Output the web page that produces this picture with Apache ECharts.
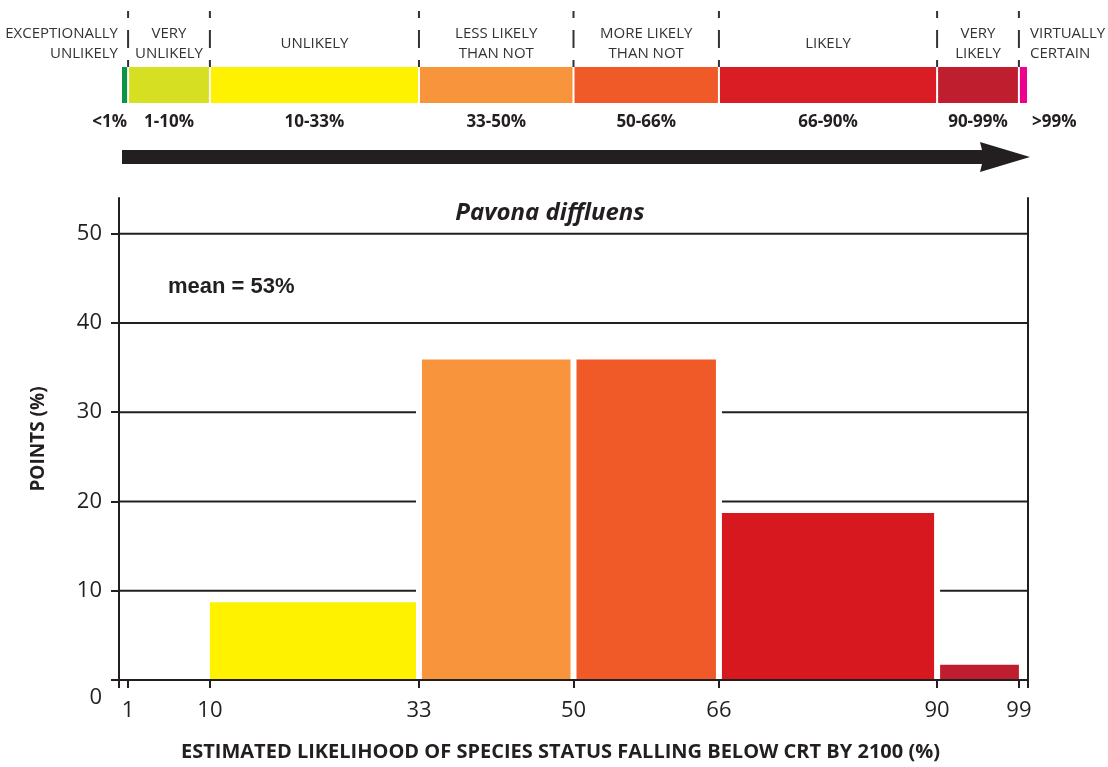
<!DOCTYPE html>
<html><head><meta charset="utf-8">
<script src="https://cdn.jsdelivr.net/npm/echarts@6/dist/echarts.min.js"></script>
<style>html,body{margin:0;padding:0;background:#fff}#c{width:1108px;height:767px}</style>
</head><body><div id="c"></div>
<script>
// ---- histogram data ----
const binStarts = [10, 33, 50, 66, 90];
const binEnds   = [33, 50, 66, 90, 99];
const pointsPct = [8.7, 35.9, 35.9, 18.7, 1.7];
const binColors = ['#fff200', '#f7943c', '#f05a28', '#d7191f', '#be1e2d'];
const gridValues = [10, 20, 30, 40, 50];
const yTickValues = [0, 10, 20, 30, 40, 50];
const xTickLabels = [1, 10, 33, 50, 66, 90, 99];
const xTickMarks = [0, 1, 10, 33, 50, 66, 90, 99, 100];

// ---- likelihood scale (top band) ----
const bandStarts = [0, 1, 10, 33, 50, 66, 90, 99];
const bandEnds   = [1, 10, 33, 50, 66, 90, 99, 100];
const bandColors = ['#0b9444', '#d7df23', '#fff200', '#f7943c', '#f05a28', '#da1c24', '#be1e2d', '#ec008c'];
const bandNames = ['EXCEPTIONALLY\nUNLIKELY', 'VERY\nUNLIKELY', 'UNLIKELY', 'LESS LIKELY\nTHAN NOT',
                   'MORE LIKELY\nTHAN NOT', 'LIKELY', 'VERY\nLIKELY', 'VIRTUALLY\nCERTAIN'];
const bandRanges = ['<1%', '1-10%', '10-33%', '33-50%', '50-66%', '66-90%', '90-99%', '>99%'];

const titleText = 'Pavona diffluens';
const meanText = 'mean = 53%';

const INK = '#231f20';
const FONT = '"Open Sans", "DejaVu Sans", sans-serif';

const chart = echarts.init(document.getElementById('c'));

const binData = binStarts.map((s, i) => [s, pointsPct[i], binEnds[i], i]);
const bandData = bandStarts.map((s, i) => [s, 0.5, bandEnds[i], i]);
const gridData = gridValues.map(v => [0, v]);

function barGeom(api) {
  const s = api.value(0), v = api.value(1), e = api.value(2);
  const pTop = api.coord([s, v]);
  const pEnd = api.coord([e, 0]);
  const adjL = binEnds.indexOf(s) >= 0, adjR = binStarts.indexOf(e) >= 0;
  const x0 = pTop[0] + (adjL ? 3 : 0);
  const x1 = pEnd[0] - (adjR ? 3 : 0);
  return {x0, x1, top: pTop[1], bottom: pEnd[1] - 1};
}

function bandItem(params, api) {
  const i = api.value(3);
  const s = api.value(0), e = api.value(2);
  const a = api.coord([s, 1]);
  const b = api.coord([e, 0]);
  const x0 = a[0], x1 = b[0], top = a[1], bottom = b[1];
  const last = bandStarts.length - 1;
  const children = [];
  children.push({type: 'rect',
    shape: {x: x0 + (i === 0 ? 3 : 1), y: top, width: x1 - x0 - (i === 0 ? 4 : 2), height: bottom - top},
    style: {fill: bandColors[i]}});
  if (i > 0) {
    children.push({type: 'line', shape: {x1: x0, y1: 11, x2: x0, y2: 67},
      style: {stroke: '#333333', lineWidth: 2, lineDash: [7, 12, 18, 12, 8]}});
  }
  let nx, nAlign, px, pAlign;
  if (i === 0) { nx = x0 - 1; nAlign = 'right'; px = x1 - 1; pAlign = 'right'; }
  else if (i === last) { nx = x1 + 2; nAlign = 'left'; px = x1 + 4; pAlign = 'left'; }
  else { nx = (x0 + x1) / 2; nAlign = 'center'; px = nx; pAlign = 'center'; }
  children.push({type: 'text', style: {
    text: bandNames[i], x: nx, y: top - 23,
    textAlign: nAlign, textVerticalAlign: 'middle',
    font: '15px ' + FONT, fill: '#333333', lineHeight: 20
  }});
  children.push({type: 'text', style: {
    text: bandRanges[i], x: px, y: bottom + 19,
    textAlign: pAlign, textVerticalAlign: 'middle',
    font: 'bold 17px ' + FONT, fill: INK
  }});
  return {type: 'group', children};
}

const option = {
  animation: false,
  backgroundColor: '#ffffff',
  grid: [
    {left: 119, right: 80, top: 198, bottom: 86},
    {left: 119, right: 80, top: 67, height: 36}
  ],
  xAxis: [
    {
      gridIndex: 0, type: 'value', min: 0, max: 100,
      axisLine: {show: true, onZero: false, lineStyle: {color: INK, width: 2}},
      axisTick: {show: true, customValues: xTickMarks, length: 8, lineStyle: {color: INK, width: 2}},
      axisLabel: {show: true, customValues: xTickLabels, fontSize: 22, fontFamily: FONT, color: INK, margin: 20},
      splitLine: {show: false},
      name: 'ESTIMATED LIKELIHOOD OF SPECIES STATUS FALLING BELOW CRT BY 2100 (%)',
      nameLocation: 'middle', nameGap: 62,
      nameTextStyle: {fontSize: 20, fontWeight: 'bold', fontFamily: FONT, color: INK, padding: [0, 26, 0, 0]}
    },
    {gridIndex: 1, type: 'value', min: 0, max: 100, show: false}
  ],
  yAxis: [
    {
      gridIndex: 0, type: 'value', min: 0, max: 54, position: 'left',
      axisLine: {show: true, onZero: false, lineStyle: {color: INK, width: 2}},
      axisTick: {show: true, customValues: yTickValues, length: 8, lineStyle: {color: INK, width: 2}},
      axisLabel: {
        show: true, customValues: yTickValues, fontSize: 22, fontFamily: FONT, color: INK, margin: 17,
        formatter: v => v === 0 ? '{z|0}' : String(v),
        rich: {z: {fontSize: 22, fontFamily: FONT, color: INK, padding: [36, 0, 0, 0]}}
      },
      splitLine: {show: false},
      name: 'POINTS (%)', nameLocation: 'middle', nameGap: 71, nameRotate: 90,
      nameTextStyle: {fontSize: 19, fontWeight: 'bold', fontFamily: FONT, color: INK}
    },
    {
      gridIndex: 0, type: 'value', min: 0, max: 54, position: 'right',
      axisLine: {show: true, onZero: false, lineStyle: {color: INK, width: 2}},
      axisTick: {show: false}, axisLabel: {show: false}, splitLine: {show: false}
    },
    {gridIndex: 1, type: 'value', min: 0, max: 1, show: false}
  ],
  series: [
    {
      // horizontal reference lines
      type: 'custom', name: 'gridlines', xAxisIndex: 0, yAxisIndex: 0, z: 1, data: gridData,
      renderItem: (params, api) => {
        const v = api.value(1);
        const a = api.coord([0, v]);
        const b = api.coord([100, v]);
        return {type: 'line', shape: {x1: a[0], y1: a[1], x2: b[0], y2: b[1]}, style: {stroke: INK, lineWidth: 2}};
      }
    },
    {
      // white halo around the bars, interrupting the reference lines
      type: 'custom', name: 'halo', xAxisIndex: 0, yAxisIndex: 0, z: 2, data: binData,
      renderItem: (params, api) => {
        const g = barGeom(api);
        return {type: 'rect', shape: {x: g.x0 - 6, y: g.top - 6, width: g.x1 - g.x0 + 12, height: g.bottom - g.top + 6}, style: {fill: '#ffffff'}};
      }
    },
    {
      type: 'custom', name: 'points', xAxisIndex: 0, yAxisIndex: 0, z: 3, data: binData,
      renderItem: (params, api) => {
        const g = barGeom(api);
        return {type: 'rect', shape: {x: g.x0, y: g.top, width: g.x1 - g.x0, height: g.bottom - g.top}, style: {fill: binColors[api.value(3)]}};
      }
    },
    {
      type: 'custom', name: 'scale', xAxisIndex: 1, yAxisIndex: 2, z: 3, data: bandData, clip: false,
      renderItem: bandItem
    }
  ],
  graphic: [
    {type: 'polygon', z: 10,
     shape: {points: [[122, 150], [982, 150], [980, 142], [1030, 157], [980, 172], [982, 164], [122, 164]]},
     style: {fill: INK}},
    {type: 'text', z: 10, x: 550, y: 213,
     style: {text: titleText, textAlign: 'center', textVerticalAlign: 'middle', font: 'italic bold 24px ' + FONT, fill: INK}},
    {type: 'text', z: 10, x: 168, y: 287,
     style: {text: meanText, textAlign: 'left', textVerticalAlign: 'middle', font: 'bold 22px "Liberation Sans", Arial, sans-serif', fill: INK}}
  ]
};

chart.setOption(option);
</script>
</body></html>
